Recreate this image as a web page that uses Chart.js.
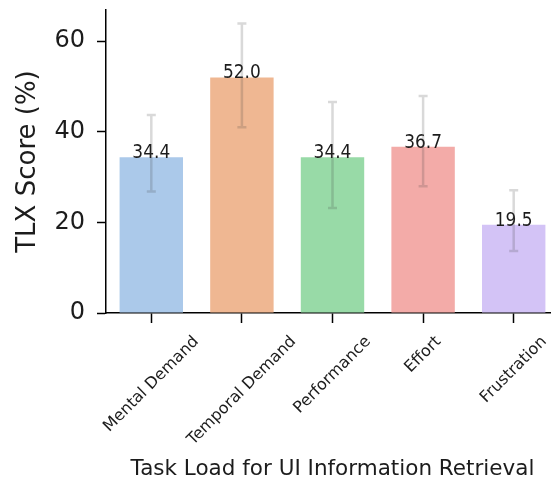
<!DOCTYPE html>
<html>
<head>
<meta charset="utf-8">
<script src="https://cdn.jsdelivr.net/npm/chart.js@4/dist/chart.umd.min.js"></script>
<style>
  html, body { margin: 0; padding: 0; background: #fff; overflow: hidden; }
  canvas { display: block; }
</style>
</head>
<body>
<canvas id="c" width="570" height="480"></canvas>
<script>
// NASA-TLX subscale means with 95% confidence interval bounds
const categories = ['Mental Demand', 'Temporal Demand', 'Performance', 'Effort', 'Frustration'];
const meanScores = [34.4, 52.0, 34.4, 36.7, 19.5];
const ciLower = [26.8, 41.0, 23.2, 28.0, 13.7];
const ciUpper = [43.7, 63.9, 46.6, 47.9, 27.1];
const yTicks = [0, 20, 40, 60];
const barColors = ['#abc9ea', '#efb792', '#98daa7', '#f3aba8', '#d3c3f6'];

const FONT = "'DejaVu Sans', sans-serif";
const TEXT = '#1c1c1c';

// Confidence interval whiskers with small caps
const errorBars = {
  id: 'errorBars',
  afterDatasetsDraw(chart) {
    const { ctx, scales: { y } } = chart;
    const meta = chart.getDatasetMeta(0);
    ctx.save();
    ctx.strokeStyle = 'rgba(66,66,66,0.2)';
    ctx.lineWidth = 2.5;
    meta.data.forEach((bar, i) => {
      const x = bar.x;
      const yLo = y.getPixelForValue(ciLower[i]);
      const yHi = y.getPixelForValue(ciUpper[i]);
      ctx.beginPath();
      ctx.moveTo(x, yLo); ctx.lineTo(x, yHi);
      ctx.moveTo(x - 4.5, yLo); ctx.lineTo(x + 4.5, yLo);
      ctx.moveTo(x - 4.5, yHi); ctx.lineTo(x + 4.5, yHi);
      ctx.stroke();
    });
    ctx.restore();
  }
};

// Mean value printed on top of each bar
const valueLabels = {
  id: 'valueLabels',
  afterDatasetsDraw(chart) {
    const { ctx } = chart;
    const meta = chart.getDatasetMeta(0);
    ctx.save();
    ctx.fillStyle = TEXT;
    ctx.font = '20px ' + FONT;
    ctx.textAlign = 'center';
    ctx.textBaseline = 'alphabetic';
    meta.data.forEach((bar, i) => {
      ctx.save();
      ctx.translate(bar.x, bar.y + 1);
      ctx.scale(0.85, 1);
      ctx.fillText(meanScores[i].toFixed(1), 0, 0);
      ctx.restore();
    });
    ctx.restore();
  }
};

// Category names rotated 45 degrees, centred under each tick
const rotatedCategoryLabels = {
  id: 'rotatedCategoryLabels',
  afterDraw(chart) {
    const { ctx, scales: { x }, chartArea } = chart;
    const size = 16;
    ctx.save();
    ctx.fillStyle = TEXT;
    ctx.font = size + 'px ' + FONT;
    ctx.textAlign = 'center';
    ctx.textBaseline = 'middle';
    const top = chartArea.bottom + 20;
    x.ticks.forEach((t, i) => {
      const label = categories[i];
      const w = ctx.measureText(label).width;
      const box = (w + size * 1.1) / Math.SQRT2;
      const cx = x.getPixelForTick(i);
      const cy = top + box / 2;
      ctx.save();
      ctx.translate(cx, cy);
      ctx.rotate(-Math.PI / 4);
      ctx.fillText(label, 0, 0);
      ctx.restore();
    });
    ctx.restore();
  }
};

new Chart(document.getElementById('c'), {
  type: 'bar',
  data: {
    labels: categories,
    datasets: [{
      data: meanScores,
      backgroundColor: barColors,
      borderWidth: 0,
      barPercentage: 0.7,
      categoryPercentage: 1.0
    }]
  },
  options: {
    responsive: false,
    animation: false,
    devicePixelRatio: 1,
    layout: { padding: { top: 10, right: 11, left: 0, bottom: 0 } },
    plugins: { legend: { display: false }, tooltip: { enabled: false } },
    scales: {
      x: {
        grid: { display: true, offset: false, drawOnChartArea: false, drawTicks: true, tickLength: 10, tickWidth: 1.5, tickColor: '#000' },
        border: { display: true, color: '#000', width: 1.5 },
        ticks: { color: 'rgba(0,0,0,0)', autoSkip: false, maxRotation: 0, minRotation: 0, font: { family: FONT, size: 14 } },
        title: {
          display: true,
          text: 'Task Load for UI Information Retrieval',
          color: TEXT,
          font: { family: FONT, size: 21.5, lineHeight: 1 },
          padding: { top: 0, bottom: 0 }
        },
        afterFit(scale) {
          scale.height = 167;
          scale.paddingLeft = 0;
          scale.paddingRight = 0;
        }
      },
      y: {
        min: 0,
        max: 66.9,
        afterBuildTicks(scale) { scale.ticks = yTicks.map(v => ({ value: v })); },
        grid: { display: true, drawOnChartArea: false, drawTicks: true, tickLength: 9, tickWidth: 1.5, tickColor: '#000' },
        border: { display: true, color: '#000', width: 1.5 },
        ticks: { color: TEXT, padding: 12, font: { family: FONT, size: 24 } },
        title: {
          display: true,
          text: 'TLX Score (%)',
          color: TEXT,
          font: { family: FONT, size: 26, lineHeight: 1 },
          padding: { top: 15, bottom: 0 }
        },
        afterFit(scale) {
          scale.width = 106;
          scale.paddingTop = 0;
          scale.paddingBottom = 0;
        }
      }
    }
  },
  plugins: [valueLabels, errorBars, rotatedCategoryLabels]
});
</script>
</body>
</html>
